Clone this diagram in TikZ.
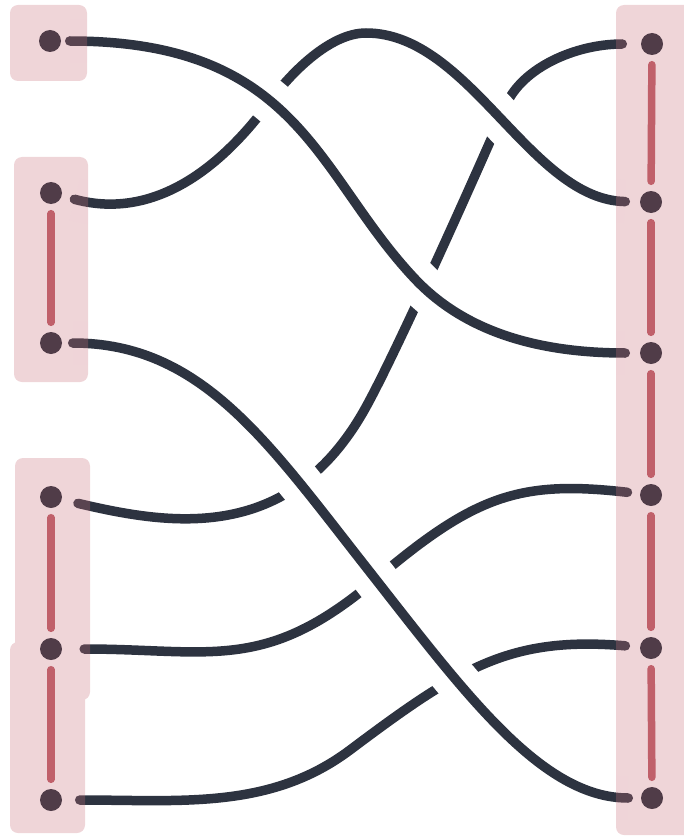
\documentclass[tikz,border=0pt]{standalone}
\usetikzlibrary{backgrounds}
\definecolor{mydarknavy1}{RGB}{45, 51, 64}
\definecolor{mydarkrose1}{RGB}{80, 60, 72}
\definecolor{myrose1}{RGB}{192, 96, 106}
\definecolor{mypink1}{RGB}{200, 110, 121}

\begin{document}
\begin{tikzpicture}[x=1pt, y=-1pt,
    endpt/.style={circle, fill=mydarkrose1, minimum size=22pt, inner sep=0pt},
    bar/.style={myrose1, line width=7.5pt, line cap=round, shorten <=9.5pt, shorten >=9.5pt},
    strand/.style={mydarknavy1, line width=9.5pt, line cap=round, shorten <=13pt, shorten >=14pt},
    overstrand/.style={strand, preaction={draw=white, line width=44pt, line cap=butt}}]
\useasboundingbox (0,0) rectangle (683,837);
% End points
\foreach \n/\x/\y in {l1/50/41, l2/51/193, l3/51/343, l4/51/497, l5/51/649, l6/51/800,
    r1/652/44, r2/651/202, r3/651/353, r4/651/495, r5/651/648, r6/652/798} {
    \node[endpt] (\n) at (\x,\y) {};
}
% Bars inside the groups
\foreach \a/\b in {l2/l3, l4/l5, l5/l6, r1/r2, r2/r3, r3/r4, r4/r5, r5/r6} {
    \draw[bar] (\a) -- (\b);
}
\begin{pgfonlayer}{background}
% Strands that pass below
\draw[strand, shorten <=16.5pt, shorten >=18.5pt] (l4) .. controls (170,525) and (290,545) .. (366,407)
    .. controls (397,351) and (478,170) .. (506,105) .. controls (522,68) and (575,44) .. (r1);
\draw[strand, shorten <=22pt, shorten >=12.5pt] (l5) .. controls (210,649) and (265,673.5) .. (375,580)
    .. controls (475,495) and (520,480) .. (r4);
\draw[strand, shorten <=17.5pt, shorten >=14.5pt] (l6) .. controls (181,800) and (270,810) .. (350,750)
    .. controls (460,667.5) and (510,636) .. (r5);
% Strands that pass over
\draw[overstrand, shorten >=14.5pt] (l2) .. controls (170,225) and (240,142) .. (271,100)
    .. controls (291,73) and (330,33) .. (366,33) .. controls (470,33) and (530,200) .. (r2);
\draw[overstrand, shorten <=8.5pt, shorten >=14.5pt] (l1) .. controls (301,41) and (316,175) .. (416,280)
    .. controls (461,327) and (529,353) .. (r3);
\draw[overstrand, shorten <=10.5pt, shorten >=12.5pt] (l3) .. controls (201,343) and (267,441) .. (366,567)
    .. controls (465,693) and (541,798) .. (r6);
% Groups
\fill[mypink1, fill opacity=0.29, rounded corners=8pt]
    (10,5) rectangle (87,81) (14,157) rectangle (88,382)
    (15,458) rectangle (90,700) (10,642) rectangle (85,833)
    (616,5) rectangle (700,835);
\end{pgfonlayer}
\end{tikzpicture}
\end{document}
